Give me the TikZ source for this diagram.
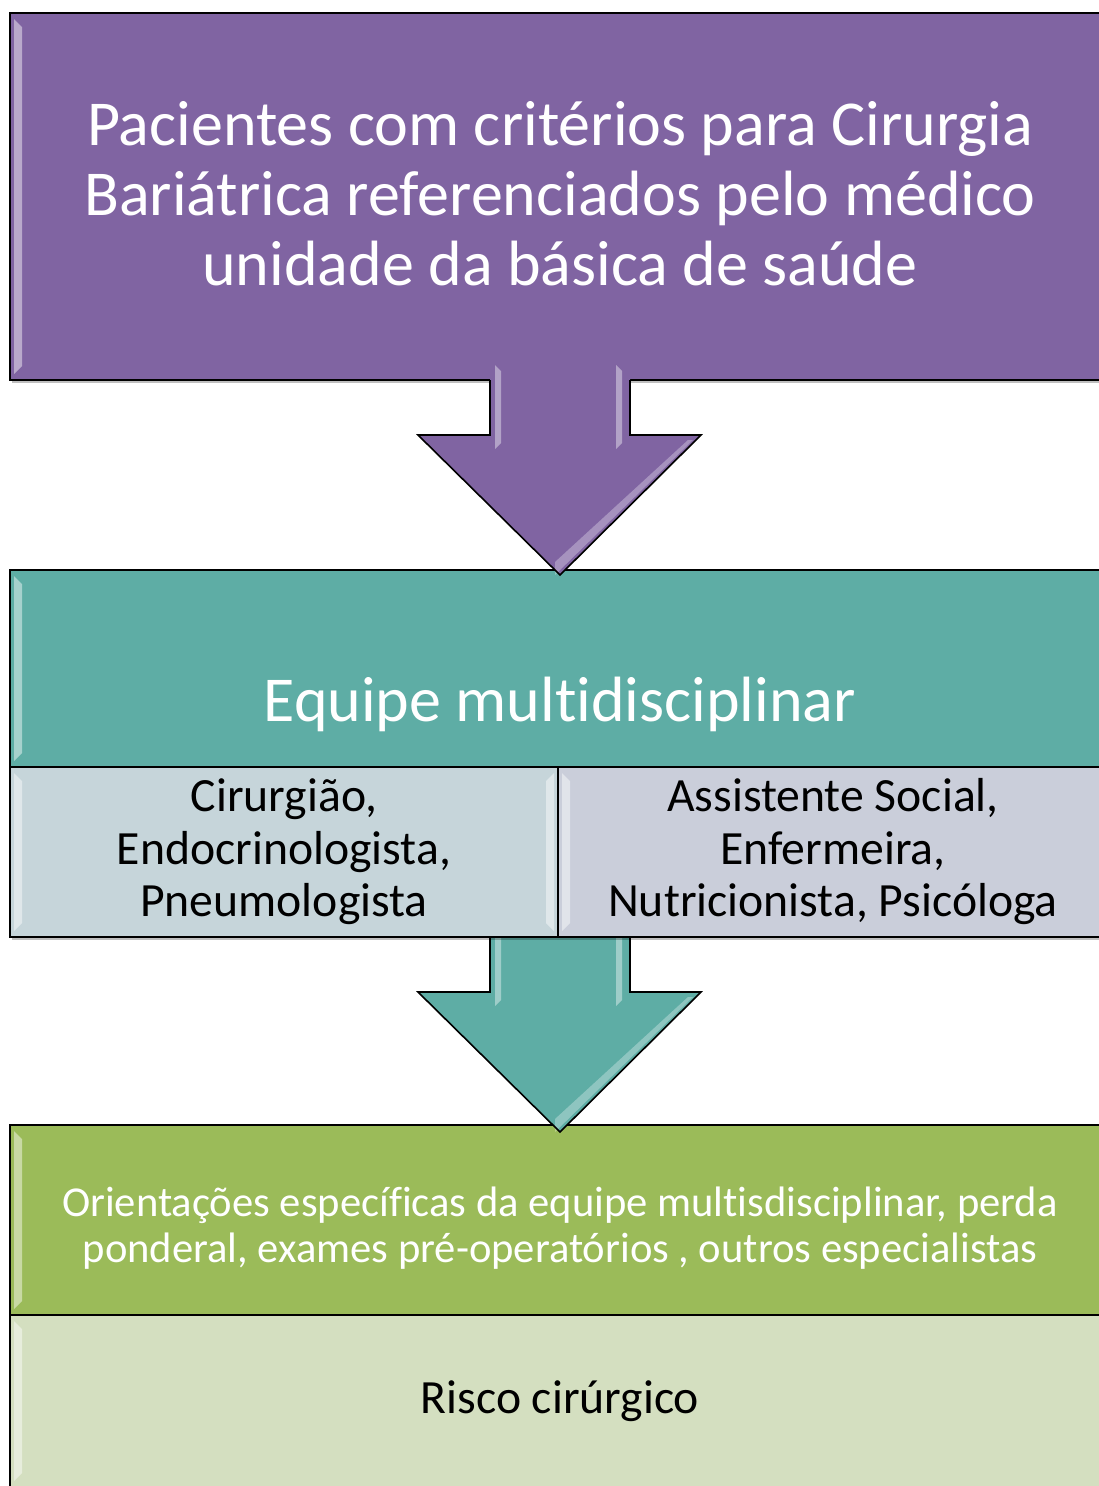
\documentclass[tikz,border=0pt]{standalone}
\usepackage{fontspec}
\setmainfont{Carlito}[Ligatures={NoCommon}]
\usetikzlibrary{calc,shadows}
\definecolor{purp}{HTML}{8064A2}
\definecolor{teal1}{HTML}{5EADA5}
\definecolor{subL}{HTML}{C6D5DA}
\definecolor{subR}{HTML}{CACEDA}
\definecolor{grn}{HTML}{9BBB59}
\definecolor{lgrn}{HTML}{D4DFC0}
\begin{document}
\begin{tikzpicture}[x=1pt,y=-1pt,
  box/.style={draw=black, line width=1.6pt, anchor=north west, inner sep=0pt, outer sep=0pt,
    align=center, drop shadow={shadow xshift=2pt, shadow yshift=-3pt, opacity=0.25, fill=black},
    bevel},
  bevel/.style={path picture={
    \fill[white,opacity=0.45] ($(path picture bounding box.north west)+(4,6)$) -- ++(8,8)
      -- ($(path picture bounding box.south west)+(12,-14)$) -- ++(-8,8) -- cycle;}},
  bevelR/.style={path picture={
    \fill[white,opacity=0.45] ($(path picture bounding box.north west)+(4,6)$) -- ++(8,8)
      -- ($(path picture bounding box.south west)+(12,-14)$) -- ++(-8,8) -- cycle;
    \fill[white,opacity=0.45] ($(path picture bounding box.north east)+(-4,6)$) -- ++(-8,8)
      -- ($(path picture bounding box.south east)+(-12,-14)$) -- ++(8,8) -- cycle;}},
  txt/.style={align=center, inner sep=0pt},
  bigtxt/.style={txt, font=\fontsize{64}{70}\selectfont, text=white},
  midtxt/.style={txt, font=\fontsize{47.7}{52.5}\selectfont, text=black},
  smltxt/.style={txt, font=\fontsize{42.6}{46}\selectfont, text=white},
  pics/darrow/.style={code={
    \fill[#1] (-70,-15) -- (-70,55) -- (-142,55) -- (0,195) -- (141,55) -- (70,55) -- (70,-15) -- cycle;
    \fill[white,opacity=0.4] (-65,-15) -- (-59,-9) -- (-59,63) -- (-65,69) -- cycle;
    \fill[white,opacity=0.4] (56,-15) -- (62,-9) -- (62,63) -- (56,69) -- cycle;
    \fill[white,opacity=0.3] (128,60) -- (133,60) -- (-5,195) -- (-5,182) -- cycle;
    \draw[line width=1.6pt, line join=miter] (-70,0) -- (-70,55) -- (-142,55) -- (0,195) -- (141,55) -- (70,55) -- (70,0);
  }}]
\useasboundingbox (0,0) rectangle (1099,1486);
\clip (0,0) rectangle (1099,1486);
\fill[white] (0,0) rectangle (1099,1486);

% top box
\node[box, fill=purp, minimum width=1100, minimum height=367] (top) at (10,13) {};
\node[bigtxt] (toptxt) at ($(top.center)+(0,-3)$)
  {Pacientes com critérios para Cirurgia\\Bariátrica referenciados pelo médico\\unidade da básica de saúde};

% green boxes
\node[box, fill=grn, minimum width=1100, minimum height=190] (orient) at (10,1125) {};
\node[smltxt] (orienttxt) at ($(orient.center)+(0,8)$)
  {Orientações específicas da equipe multisdisciplinar, perda\\ponderal, exames pré-operatórios , outros especialistas};
\node[box, fill=lgrn, minimum width=1100, minimum height=172] (risco) at (10,1315) {};
\node[midtxt] (riscotxt) at (risco.center) {Risco cirúrgico};

% teal box
\node[box, fill=teal1, minimum width=1100, minimum height=197] (equipe) at (10,570) {};
\node[bigtxt] (equipetxt) at (560,704) {Equipe multidisciplinar};

% second arrow (behind the sub boxes)
\coordinate (split) at (560,937);
\pic at (split) {darrow=teal1};

% sub boxes
\node[box, fill=subL, minimum width=548, minimum height=170, bevelR] (left) at (10,767) {};
\node[midtxt] (lefttxt) at (left.center) {Cirurgião,\\Endocrinologista,\\Pneumologista};
\node[box, fill=subR, minimum width=552, minimum height=170] (right) at (558,767) {};
\node[midtxt] (righttxt) at ($(right.center)+(-1,0)$) {Assistente Social,\\Enfermeira,\\Nutricionista, Psicóloga};

% first arrow
\pic at (top.south) {darrow=purp};
\end{tikzpicture}
\end{document}
